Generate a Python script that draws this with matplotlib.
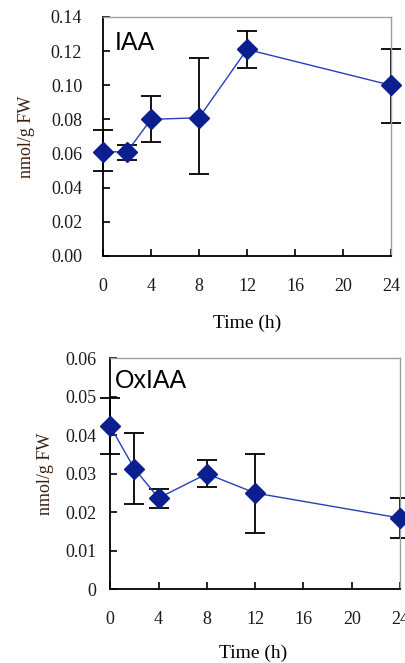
import matplotlib.pyplot as plt

# time points (h)
time = [0, 2, 4, 8, 12, 24]

# IAA (nmol/g FW)
iaa = [0.061, 0.061, 0.080, 0.081, 0.121, 0.100]
iaa_lo = [0.050, 0.056, 0.067, 0.048, 0.110, 0.078]
iaa_hi = [0.074, 0.065, 0.094, 0.116, 0.132, 0.121]

# OxIAA (nmol/g FW)
oxiaa = [0.0423, 0.0313, 0.0237, 0.0300, 0.0250, 0.0185]
ox_lo = [0.0351, 0.0222, 0.0212, 0.0265, 0.0146, 0.0132]
ox_hi = [0.0496, 0.0405, 0.0260, 0.0335, 0.0352, 0.0237]

xticks = [0, 4, 8, 12, 16, 20, 24]
iaa_yticks = [0.00, 0.02, 0.04, 0.06, 0.08, 0.10, 0.12, 0.14]
ox_yticks = [0, 0.01, 0.02, 0.03, 0.04, 0.05, 0.06]

serif = 'Liberation Serif'
fig = plt.figure(figsize=(4.06, 6.63), dpi=100)


def panel(rect, y, lo, hi, yticks, ylabels, ymax, name, name_xy, ypad, ylab_x, xlab_xy):
    ax = fig.add_axes(rect)
    yerr = [[v - l for v, l in zip(y, lo)], [h - v for v, h in zip(y, hi)]]
    ax.errorbar(time, y, yerr=yerr, fmt='none', ecolor='black', elinewidth=1.3,
                capsize=7, capthick=1.3, zorder=2, clip_on=False)
    ax.plot(time, y, color='#2a3fb5', lw=1.0, marker='D', markersize=10,
            markerfacecolor='#0B1F8F', markeredgecolor='#0B1F8F', zorder=3, clip_on=False)
    ax.set_xlim(0, 24)
    ax.set_ylim(0, ymax)
    ax.set_xticks(xticks)
    ax.set_yticks(yticks)
    ax.set_yticklabels(ylabels)
    ax.tick_params(direction='in', length=5, width=1.2, colors='black', labelsize=13)
    ax.tick_params(axis='x', pad=16)
    ax.tick_params(axis='y', pad=ypad)
    for lab in ax.get_xticklabels() + ax.get_yticklabels():
        lab.set_fontfamily(serif)
        lab.set_color('#1a1a1a')
    for s in ['left', 'bottom']:
        ax.spines[s].set_color('black')
        ax.spines[s].set_linewidth(1.3)
    for s in ['top', 'right']:
        ax.spines[s].set_color('#A0A0A0')
        ax.spines[s].set_linewidth(1.0)
    ax.set_xlabel('Time (h)', fontfamily=serif, fontsize=14)
    ax.xaxis.set_label_coords(*xlab_xy)
    ax.set_ylabel('nmol/g FW', fontfamily=serif, fontsize=13, color='#3a2010')
    ax.yaxis.set_label_coords(ylab_x, 0.5)
    ax.text(name_xy[0], name_xy[1], name, transform=ax.transAxes,
            fontfamily='Liberation Sans', fontsize=18, va='top', ha='left')
    return ax


panel([0.2537, 0.6139, 0.7094, 0.3605], iaa, iaa_lo, iaa_hi, iaa_yticks,
      ['%.2f' % v for v in iaa_yticks], 0.14, 'IAA', (0.04, 0.94), 15,
      -0.237, (0.499, -0.245))
panel([0.2717, 0.1112, 0.7135, 0.3484], oxiaa, ox_lo, ox_hi, ox_yticks,
      ['0', '0.01', '0.02', '0.03', '0.04', '0.05', '0.06'], 0.06, 'OxIAA', (0.015, 0.955), 10,
      -0.195, (0.494, -0.24))

fig.savefig('out.png', dpi=100)
